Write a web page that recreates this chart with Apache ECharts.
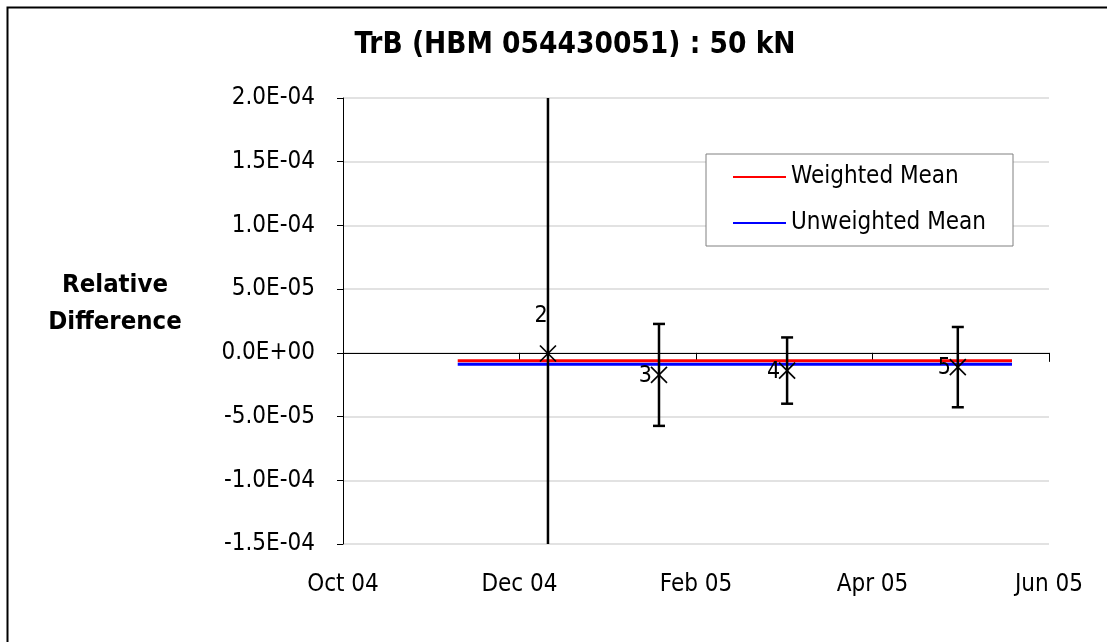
<!DOCTYPE html>
<html><head><meta charset="utf-8">
<script src="https://cdn.jsdelivr.net/npm/echarts@6/dist/echarts.min.js"></script>
<style>html,body{margin:0;padding:0;background:#fff}#c{width:1107px;height:642px}</style>
</head><body><div id="c"></div>
<script>
// ---- data ----
const chartTitle = 'TrB (HBM 054430051) : 50 kN';
const yAxisTitle = ['Relative', 'Difference'];
const xTickLabels = ['Oct 04', 'Dec 04', 'Feb 05', 'Apr 05', 'Jun 05'];
const pointLabels = ['2', '3', '4', '5'];
const pointDates = ['2004-12-11', '2005-01-19', '2005-03-02', '2005-04-30'];
const pointValues = [-5e-7, -1.73e-5, -1.39e-5, -1.12e-5];
const pointErrors = [5e-4, 4.0e-5, 2.6e-5, 3.15e-5];
const meanDates = ['2004-11-10', '2005-05-19'];
const weightedMean = -6.2e-6;
const unweightedMean = -8.9e-6;
const seriesNames = ['Weighted Mean', 'Unweighted Mean'];

// ---- helpers ----
const FONT = '"DejaVu Sans Condensed", "DejaVu Sans"';
function monthIndex(s) { // months since 1 Oct 2004
  const [y, m, d] = s.split('-').map(Number);
  const dim = new Date(y, m, 0).getDate();
  return (y - 2004) * 12 + (m - 10) + (d - 1) / dim;
}
function sci(v) {
  if (Math.abs(v) < 1e-12) return '0.0E+00';
  let e = Math.floor(Math.log10(Math.abs(v)) + 1e-9);
  let ms = (v / Math.pow(10, e)).toFixed(1);
  if (Math.abs(parseFloat(ms)) >= 10) { e += 1; ms = (v / Math.pow(10, e)).toFixed(1); }
  const es = (e < 0 ? '-' : '+') + String(Math.abs(e)).padStart(2, '0');
  return ms + 'E' + es;
}
const pts = pointDates.map((d, i) => [monthIndex(d), pointValues[i], pointErrors[i], i]);
const labelAbove = [true, false, false, false];

const chart = echarts.init(document.getElementById('c'), null, {renderer: 'canvas'});
chart.setOption({
  animation: false,
  backgroundColor: '#fff',
  grid: {left: 343, right: 58, top: 98, bottom: 98, containLabel: false},
  graphic: [
    {type: 'rect', shape: {x: 7.5, y: 7.5, width: 1200, height: 700}, style: {fill: 'none', stroke: '#000', lineWidth: 2}, z: 100},
    {type: 'text', x: 575, y: 45, style: {text: chartTitle, align: 'center', verticalAlign: 'middle', fontFamily: FONT, fontWeight: 'bold', fontSize: 29.5, fill: '#000'}},
    {type: 'text', x: 115, y: 285, style: {text: yAxisTitle[0], align: 'center', verticalAlign: 'middle', fontFamily: FONT, fontWeight: 'bold', fontSize: 25.5, fill: '#000'}},
    {type: 'text', x: 115, y: 322, style: {text: yAxisTitle[1], align: 'center', verticalAlign: 'middle', fontFamily: FONT, fontWeight: 'bold', fontSize: 25.5, fill: '#000'}}
  ],
  legend: {
    data: seriesNames,
    orient: 'vertical', left: 706, top: 154,
    backgroundColor: '#fff',
    borderColor: '#808080', borderWidth: 1, borderRadius: 0,
    padding: [11, 27, 11, 27],
    icon: 'rect',
    itemWidth: 53, itemHeight: 2, itemGap: 22,
    textStyle: {fontFamily: FONT, fontSize: 24, color: '#000', lineHeight: 24}
  },
  xAxis: [
    {type: 'value', min: 0, max: 8, interval: 2,
      axisLine: {show: false, onZero: false}, axisTick: {show: false}, splitLine: {show: false},
      axisLabel: {margin: 29, fontFamily: FONT, fontSize: 24, color: '#000',
        formatter: v => xTickLabels[Math.round(v / 2)]}},
    {type: 'value', min: 0, max: 8, interval: 2, position: 'bottom',
      axisLine: {show: true, onZero: true, lineStyle: {color: '#000', width: 1}},
      axisTick: {show: true, length: 9, lineStyle: {color: '#000', width: 1}},
      axisLabel: {show: false}, splitLine: {show: false}}
  ],
  yAxis: {
    type: 'value', min: -1.5e-4, max: 2e-4, interval: 5e-5,
    axisLine: {show: true, onZero: false, lineStyle: {color: '#000', width: 1}},
    axisTick: {show: true, length: 6, lineStyle: {color: '#000'}},
    axisLabel: {margin: 28, fontFamily: FONT, fontSize: 24, color: '#000', formatter: sci},
    splitLine: {show: true, lineStyle: {color: '#d9d9d9', width: 1.5}}
  },
  series: [
    {name: seriesNames[0], type: 'line', symbol: 'none', xAxisIndex: 0,
      data: meanDates.map(d => [monthIndex(d), weightedMean]),
      lineStyle: {color: '#ff0000', width: 3}, itemStyle: {color: '#ff0000'}, z: 3},
    {name: seriesNames[1], type: 'line', symbol: 'none', xAxisIndex: 0,
      data: meanDates.map(d => [monthIndex(d), unweightedMean]),
      lineStyle: {color: '#0000ff', width: 3}, itemStyle: {color: '#0000ff'}, z: 3},
    {type: 'custom', xAxisIndex: 0, clip: true, z: 5,
      data: pts,
      renderItem: function (params, api) {
        const x = api.value(0), y = api.value(1), e = api.value(2), i = api.value(3);
        const c = api.coord([x, y]);
        const t = api.coord([x, y + e]);
        const b = api.coord([x, y - e]);
        const cap = 6, m = 8;
        const st = {stroke: '#000', lineWidth: 2.5};
        const mst = {stroke: '#000', lineWidth: 1.6};
        const lbl = pointLabels[i];
        const txt = labelAbove[i]
          ? {type: 'text', style: {text: lbl, x: c[0] - 7, y: c[1] - 37, align: 'center', verticalAlign: 'middle', fontFamily: FONT, fontSize: 23, fill: '#000'}}
          : {type: 'text', style: {text: lbl, x: c[0] - 7, y: c[1] + 1, align: 'right', verticalAlign: 'middle', fontFamily: FONT, fontSize: 23, fill: '#000'}};
        return {type: 'group', children: [
          {type: 'line', shape: {x1: c[0], y1: t[1], x2: c[0], y2: b[1]}, style: st},
          {type: 'line', shape: {x1: c[0] - cap, y1: t[1], x2: c[0] + cap, y2: t[1]}, style: st},
          {type: 'line', shape: {x1: c[0] - cap, y1: b[1], x2: c[0] + cap, y2: b[1]}, style: st},
          {type: 'line', shape: {x1: c[0] - m, y1: c[1] - m, x2: c[0] + m, y2: c[1] + m}, style: mst},
          {type: 'line', shape: {x1: c[0] - m, y1: c[1] + m, x2: c[0] + m, y2: c[1] - m}, style: mst},
          txt
        ]};
      }}
  ]
});
</script></body></html>
